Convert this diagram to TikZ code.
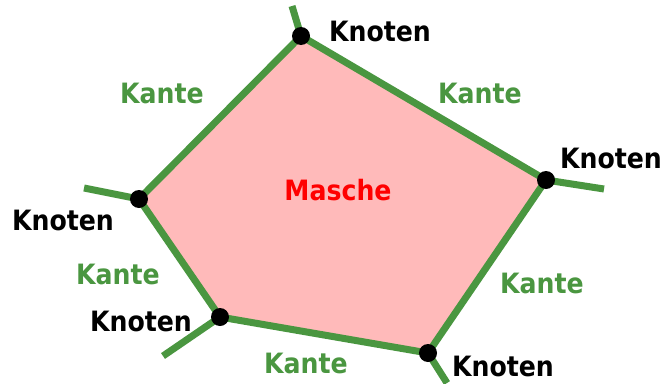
\documentclass[tikz,border=0pt]{standalone}
\usepackage{fontspec}
\setsansfont{DejaVu Sans Condensed}
\usetikzlibrary{positioning}
\definecolor{green1}{HTML}{4A9640}
\definecolor{red1}{HTML}{FF0000}
\definecolor{ink}{HTML}{000000}
\tikzset{
  knot/.style={circle,fill=ink,inner sep=0pt,minimum size=18pt},
  edgeline/.style={draw=green1,line width=7pt,line join=round},
  knotlabel/.style={font=\fontsize{28}{32}\selectfont\sffamily\bfseries,text=ink,inner sep=0pt},
  edgelabel/.style={font=\fontsize{28}{32}\selectfont\sffamily\bfseries,text=green1,inner sep=0pt}
}
\begin{document}
\begin{tikzpicture}[x=1pt,y=-1pt]
  \useasboundingbox (0,0) rectangle (664,383);
  % corners of the mesh
  \coordinate (top) at (301,36);
  \coordinate (right) at (546,180);
  \coordinate (botr) at (428,353);
  \coordinate (botl) at (220,317);
  \coordinate (left) at (139,199);
  % loose ends
  \coordinate (top-o) at (292,6);
  \coordinate (right-o) at (604,189);
  \coordinate (botr-o) at (447,383);
  \coordinate (botl-o) at (163,356);
  \coordinate (left-o) at (84,188);
  % mesh
  \fill[red1!27] (top) -- (right) -- (botr) -- (botl) -- (left) -- cycle;
  \draw[edgeline] (top) -- (right) -- (botr) -- (botl) -- (left) -- cycle;
  \foreach \c in {top,right,botr,botl,left}{
    \draw[edgeline,line cap=butt] (\c) -- (\c-o);
    \node[knot] at (\c) {};
  }
  % labels
  \node[text=red1,font=\fontsize{28}{32}\selectfont\sffamily\bfseries] (mesh) at (338,190) {Masche};
  \node[knotlabel] (k1) at (380,31) {Knoten};
  \node[knotlabel] (k2) at (611,158) {Knoten};
  \node[knotlabel] (k3) at (63,220) {Knoten};
  \node[knotlabel] (k4) at (141,321) {Knoten};
  \node[knotlabel] (k5) at (503,366) {Knoten};
  \node[edgelabel] (e1) at (162,93) {Kante};
  \node[edgelabel] (e2) at (480,93) {Kante};
  \node[edgelabel] (e3) at (118,274) {Kante};
  \node[edgelabel] (e4) at (542,283) {Kante};
  \node[edgelabel] (e5) at (306,363) {Kante};
\end{tikzpicture}
\end{document}
